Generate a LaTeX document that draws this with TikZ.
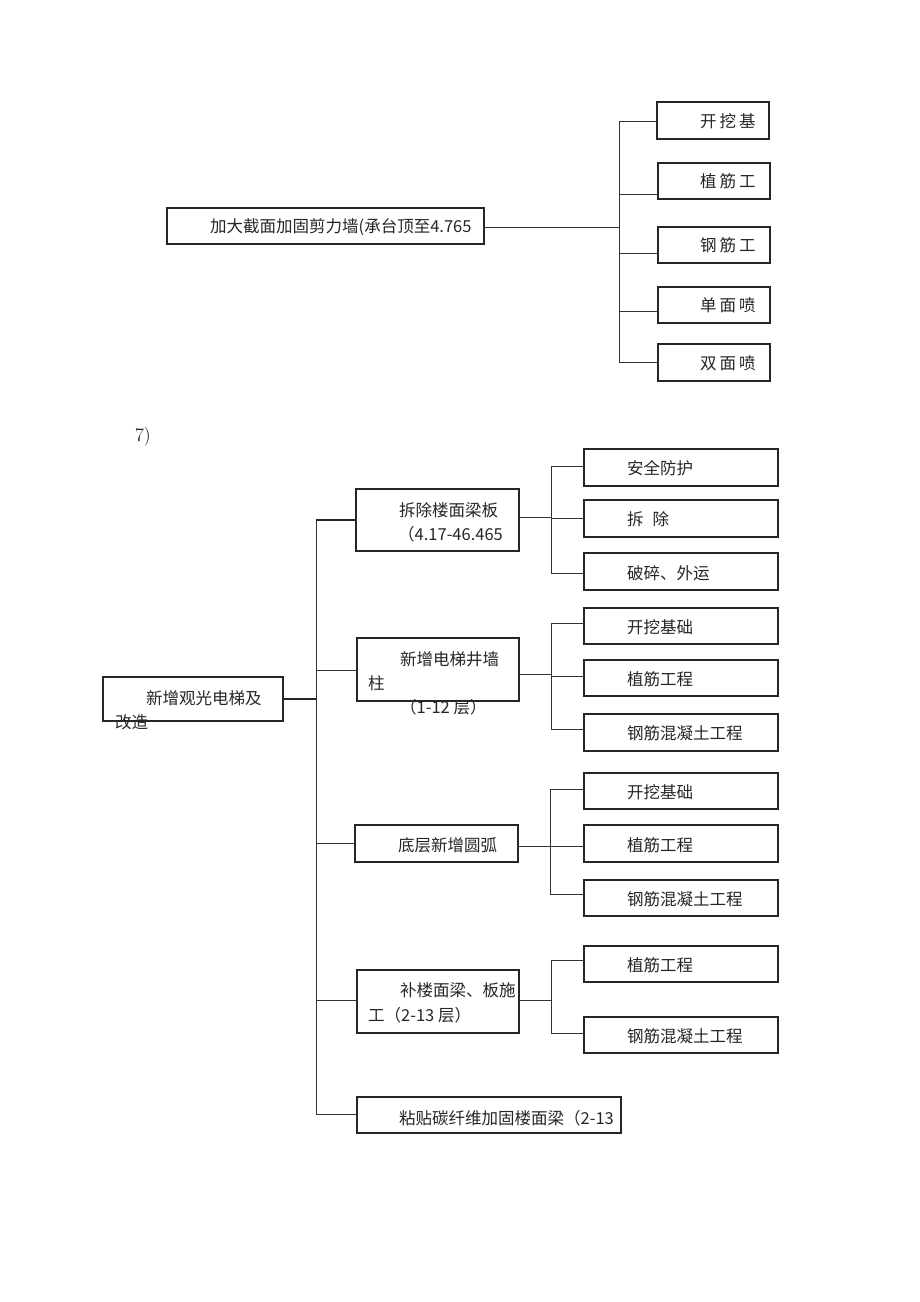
\documentclass[tikz,border=0pt]{standalone}
\usepackage{fontspec}
\newfontfamily\cjk{Noto Sans CJK SC}
\begin{document}
\begin{tikzpicture}[x=1pt,y=-1pt,
  bx/.style={draw=black!85, line width=1.1pt, inner sep=0pt, outer sep=0pt, anchor=north west},
  lbl/.style={anchor=west, inner sep=0pt, text=black!85, font=\cjk\fontsize{16.5}{18}\selectfont},
  ln/.style={draw=black!80, line width=0.9pt},
  thk/.style={draw=black!85, line width=2pt}]
\fill[white] (0,0) rectangle (920,1302);
\useasboundingbox (0,0) rectangle (920,1302);

% ---------- top section ----------
\node[bx, minimum width=317pt, minimum height=36pt] (T0) at (167,208) {};
\node[lbl] (T0t) at (210,227) {加大截面加固剪力墙(承台顶至4.765};

\node[bx, minimum width=112pt, minimum height=37pt] (tc1) at (657,102) {};
\node[bx, minimum width=112pt, minimum height=36pt] (tc2) at (658,163) {};
\node[bx, minimum width=112pt, minimum height=36pt] (tc3) at (658,227) {};
\node[bx, minimum width=112pt, minimum height=36pt] (tc4) at (658,287) {};
\node[bx, minimum width=112pt, minimum height=37pt] (tc5) at (658,344) {};
\node[lbl] (tc1t) at (700,121) {开\hspace{3pt}挖\hspace{3pt}基};
\node[lbl] (tc2t) at (700,181) {植\hspace{3pt}筋\hspace{3pt}工};
\node[lbl] (tc3t) at (700,245) {钢\hspace{3pt}筋\hspace{3pt}工};
\node[lbl] (tc4t) at (700,305) {单\hspace{3pt}面\hspace{3pt}喷};
\node[lbl] (tc5t) at (700,363) {双\hspace{3pt}面\hspace{3pt}喷};

\coordinate (tj0) at (619,227);
\coordinate (tj1) at (619,121);
\coordinate (tj2) at (619,194);
\coordinate (tj3) at (619,253);
\coordinate (tj4) at (619,311);
\coordinate (tj5) at (619,362);
\draw[ln] (T0.east |- tj0) -- (tj0);
\draw[ln] (tj1) -- (tj5);
\draw[ln] (tj1) -- (tj1 -| tc1.west);
\draw[ln] (tj2) -- (tj2 -| tc2.west);
\draw[ln] (tj3) -- (tj3 -| tc3.west);
\draw[ln] (tj4) -- (tj4 -| tc4.west);
\draw[ln] (tj5) -- (tj5 -| tc5.west);

% ---------- section label ----------
\node[anchor=west, inner sep=0pt, font=\fontsize{19}{21}\selectfont] (sec7) at (135,437) {7)};

% ---------- bottom section ----------
\node[bx, minimum width=180pt, minimum height=44pt] (R) at (103,677) {};
\node[lbl] (Rt1) at (146,698) {新增观光电梯及};
\node[lbl] (Rt2) at (115,722) {改造};

\node[bx, minimum width=163pt, minimum height=62pt] (B1) at (356,489) {};
\node[lbl] (B1t1) at (399,510) {拆除楼面梁板};
\node[lbl] (B1t2) at (398,534) {（4.17-46.465};

\node[bx, minimum width=162pt, minimum height=63pt] (B2) at (357,638) {};
\node[lbl] (B2t1) at (400,659) {新增电梯井墙};
\node[lbl] (B2t2) at (368,683) {柱};
\node[lbl] (B2t3) at (400,707) {（1-12 层）};

\node[bx, minimum width=163pt, minimum height=37pt] (B3) at (355,825) {};
\node[lbl] (B3t) at (398,845) {底层新增圆弧};

\node[bx, minimum width=162pt, minimum height=63pt] (B4) at (357,970) {};
\node[lbl] (B4t1) at (400,990) {补楼面梁、板施};
\node[lbl] (B4t2) at (368,1015) {工（2-13 层）};

\node[bx, minimum width=264pt, minimum height=36pt] (B5) at (357,1097) {};
\node[lbl] (B5t) at (399,1118) {粘贴碳纤维加固楼面梁（2-13};

% children
\node[bx, minimum width=194pt, minimum height=37pt] (k11) at (584,449) {};
\node[bx, minimum width=194pt, minimum height=37pt] (k12) at (584,500) {};
\node[bx, minimum width=194pt, minimum height=37pt] (k13) at (584,553) {};
\node[bx, minimum width=194pt, minimum height=36pt] (k21) at (584,608) {};
\node[bx, minimum width=194pt, minimum height=36pt] (k22) at (584,660) {};
\node[bx, minimum width=194pt, minimum height=37pt] (k23) at (584,714) {};
\node[bx, minimum width=194pt, minimum height=36pt] (k31) at (584,773) {};
\node[bx, minimum width=194pt, minimum height=37pt] (k32) at (584,825) {};
\node[bx, minimum width=194pt, minimum height=36pt] (k33) at (584,880) {};
\node[bx, minimum width=194pt, minimum height=36pt] (k41) at (584,946) {};
\node[bx, minimum width=194pt, minimum height=36pt] (k42) at (584,1017) {};

\node[lbl] (k11t) at (627,468) {安全防护};
\node[lbl] (k12t) at (627,519) {拆\hspace{9pt}除};
\node[lbl] (k13t) at (627,573) {破碎、外运};
\node[lbl] (k21t) at (627,627) {开挖基础};
\node[lbl] (k22t) at (627,679) {植筋工程};
\node[lbl] (k23t) at (627,733) {钢筋混凝土工程};
\node[lbl] (k31t) at (627,792) {开挖基础};
\node[lbl] (k32t) at (627,845) {植筋工程};
\node[lbl] (k33t) at (627,899) {钢筋混凝土工程};
\node[lbl] (k41t) at (627,965) {植筋工程};
\node[lbl] (k42t) at (627,1036) {钢筋混凝土工程};

% trunk
\coordinate (r0) at (316,699);
\coordinate (r1) at (316,520);
\coordinate (r2) at (316,670);
\coordinate (r3) at (316,843);
\coordinate (r4) at (316,1000);
\coordinate (r5) at (316,1114);
\draw[thk] (R.east |- r0) -- (r0);
\draw[ln] (r1) -- (r5);
\draw[thk] (r1) -- (r1 -| B1.west);
\draw[ln] (r2) -- (r2 -| B2.west);
\draw[ln] (r3) -- (r3 -| B3.west);
\draw[ln] (r4) -- (r4 -| B4.west);
\draw[ln] (r5) -- (r5 -| B5.west);

% branch 1
\coordinate (a0) at (551,517);
\coordinate (a1) at (551,466);
\coordinate (a2) at (551,518);
\coordinate (a3) at (551,573);
\draw[ln] (B1.east |- a0) -- (a0);
\draw[ln] (a1) -- (a3);
\draw[ln] (a1) -- (a1 -| k11.west);
\draw[ln] (a2) -- (a2 -| k12.west);
\draw[ln] (a3) -- (a3 -| k13.west);

% branch 2
\coordinate (b0) at (551,674);
\coordinate (b1) at (551,623);
\coordinate (b2) at (551,676);
\coordinate (b3) at (551,729);
\draw[ln] (B2.east |- b0) -- (b0);
\draw[ln] (b1) -- (b3);
\draw[ln] (b1) -- (b1 -| k21.west);
\draw[ln] (b2) -- (b2 -| k22.west);
\draw[ln] (b3) -- (b3 -| k23.west);

% branch 3
\coordinate (c0) at (550,846);
\coordinate (c1) at (550,789);
\coordinate (c3) at (550,894);
\draw[ln] (B3.east |- c0) -- (c0 -| k32.west);
\draw[ln] (c1) -- (c3);
\draw[ln] (c1) -- (c1 -| k31.west);
\draw[ln] (c3) -- (c3 -| k33.west);

% branch 4
\coordinate (d0) at (551,1000);
\coordinate (d1) at (551,960);
\coordinate (d2) at (551,1033);
\draw[ln] (B4.east |- d0) -- (d0);
\draw[ln] (d1) -- (d2);
\draw[ln] (d1) -- (d1 -| k41.west);
\draw[ln] (d2) -- (d2 -| k42.west);
\end{tikzpicture}
\end{document}
